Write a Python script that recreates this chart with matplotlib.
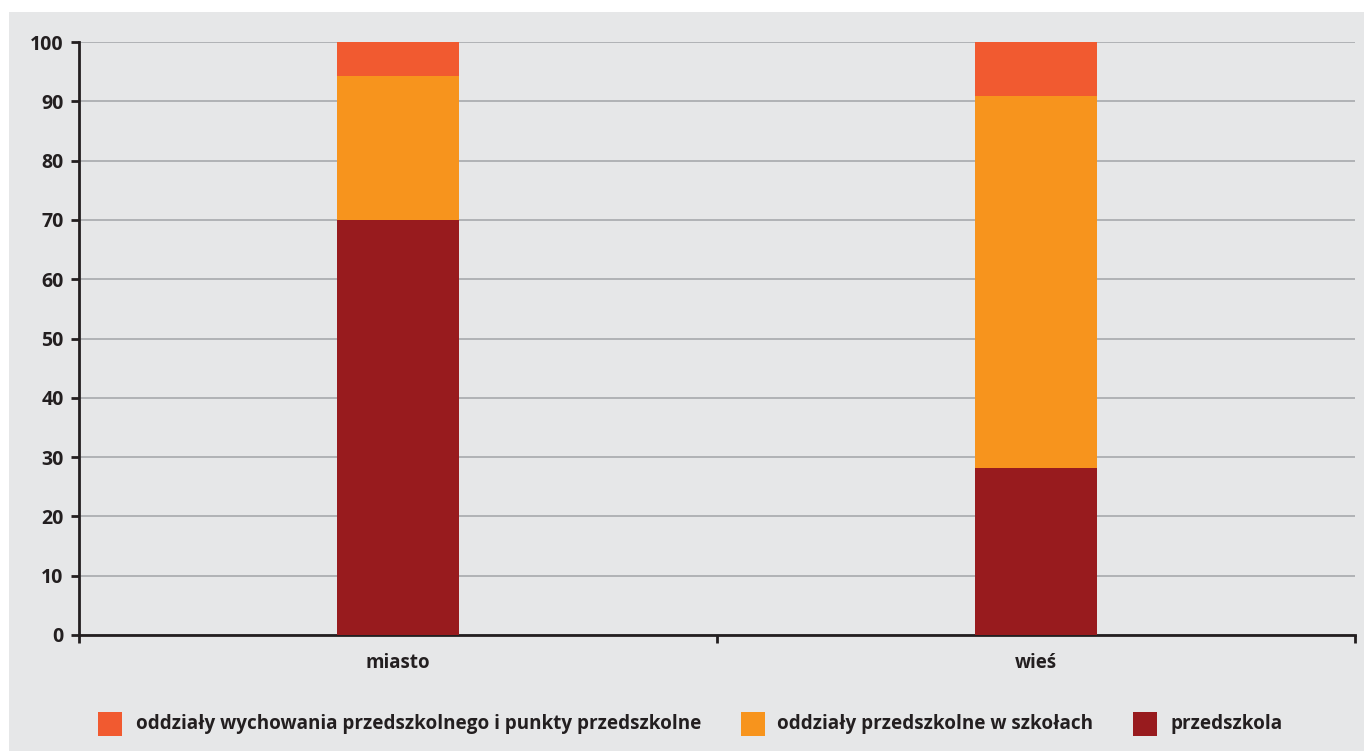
import matplotlib
matplotlib.use("Agg")
import numpy as np
from matplotlib import pyplot as plt
from matplotlib.patches import Rectangle

# dane
categories = ["miasto", "wieś"]
przedszkola = [70.0, 28.2]
oddzialy_szkoly = [24.3, 62.7]
oddzialy_wych = [5.7, 9.1]

series_labels = [
    "oddziały wychowania przedszkolnego i punkty przedszkolne",
    "oddziały przedszkolne w szkołach",
    "przedszkola",
]
series_colors = ["#F15A30", "#F7941D", "#981B1E"]
y_ticks = list(range(0, 101, 10))

BG = "#E6E7E8"
INK = "#231F20"

plt.rcParams["font.family"] = ["Open Sans", "DejaVu Sans"]
plt.rcParams["font.weight"] = "bold"

fig = plt.figure(figsize=(13.64, 7.51), dpi=100)
fig.patch.set_facecolor("white")
# szare tło (biały margines u góry i z lewej)
fig.add_artist(Rectangle((9 / 1364, 0), 1, 1 - 12 / 751, transform=fig.transFigure,
                         facecolor=BG, edgecolor="none", zorder=-10))

ax = fig.add_axes([79 / 1364, 1 - 635 / 751, (1355 - 79) / 1364, (635 - 42) / 751])
ax.set_facecolor(BG)

x = np.arange(len(categories))
w = 0.19
bottom1 = np.array(przedszkola)
bottom2 = bottom1 + np.array(oddzialy_szkoly)
ax.bar(x, przedszkola, w, color=series_colors[2], zorder=3)
ax.bar(x, oddzialy_szkoly, w, bottom=bottom1, color=series_colors[1], zorder=3)
ax.bar(x, oddzialy_wych, w, bottom=bottom2, color=series_colors[0], zorder=3)

ax.set_xlim(-0.5, 1.5)
ax.set_ylim(0, 100)
ax.set_yticks(y_ticks)
ax.set_yticklabels([str(v) for v in y_ticks], fontsize=14, color=INK, fontweight="bold")
ax.yaxis.grid(True, color="#A7A9AC", linewidth=1.2, zorder=0)
ax.set_axisbelow(True)

ax.set_xticks([-0.5, 0.5, 1.5])
ax.set_xticklabels([])
ax.set_xticks(x, minor=True)
ax.set_xticklabels(categories, minor=True, fontsize=13.5, color=INK, fontweight="bold")
ax.tick_params(axis="x", which="minor", length=0, pad=13)
ax.tick_params(axis="x", which="major", length=6, width=2, color=INK)
ax.tick_params(axis="y", length=6, width=2, color=INK, pad=5)

for s in ["top", "right"]:
    ax.spines[s].set_visible(False)
for s in ["left", "bottom"]:
    ax.spines[s].set_color(INK)
    ax.spines[s].set_linewidth(2)

# legenda
sq_x = [98, 741, 1133]
txt_x = [136, 777, 1170]
y_c = 724
for sx, tx, lab, col in zip(sq_x, txt_x, series_labels, series_colors):
    fig.add_artist(Rectangle((sx / 1364, 1 - (y_c + 12) / 751), 24 / 1364, 24 / 751,
                             transform=fig.transFigure, facecolor=col, edgecolor="none"))
    fig.text(tx / 1364, 1 - y_c / 751, lab, fontsize=13.6, color=INK, fontweight="bold",
             va="center", ha="left")

fig.savefig("out.png", dpi=100, facecolor=fig.get_facecolor())
